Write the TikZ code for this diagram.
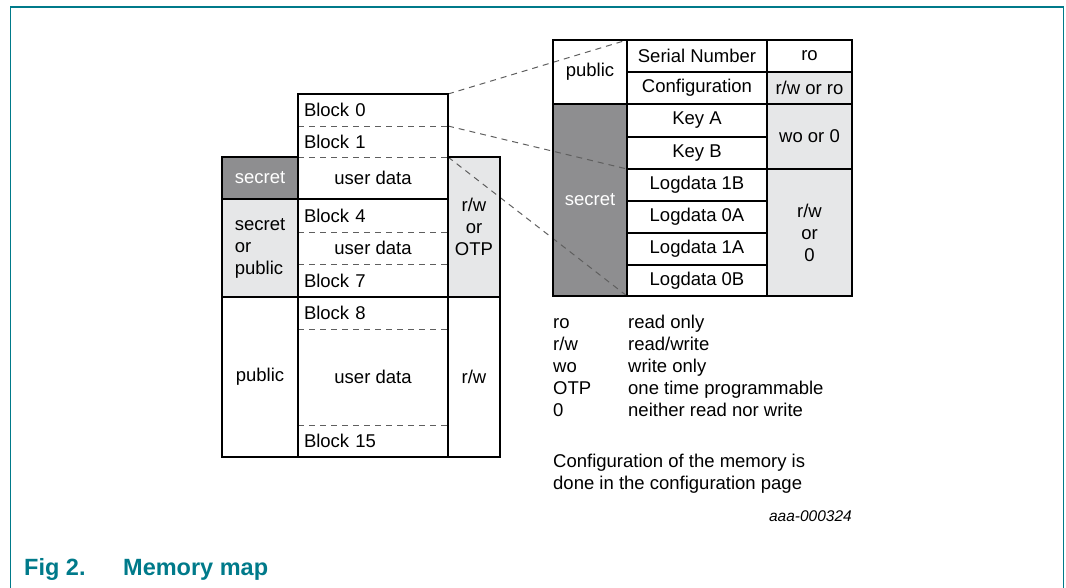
\documentclass[tikz,border=0pt]{standalone}
\usepackage{fontspec}
\setmainfont{Liberation Sans}
\definecolor{nxpteal}{RGB}{0,122,138}
\definecolor{darkcell}{RGB}{142,142,144}
\definecolor{lightcell}{RGB}{230,231,232}
\definecolor{dashgray}{RGB}{95,95,95}
\newcommand\cellfont{\fontsize{18.5}{22}\selectfont}
\begin{document}
\begin{tikzpicture}[x=1pt,y=-1pt,
  cell/.style={anchor=north west, inner sep=0pt, outer sep=0pt, font=\cellfont, align=center},
  lcell/.style={cell, align=left, inner xsep=6pt},
  dark/.style={fill=darkcell, text=white},
  light/.style={fill=lightcell},
  thickline/.style={line width=2.2pt, line cap=rect},
  thinline/.style={line width=1.1pt},
  medline/.style={line width=1.6pt},
  dashline/.style={line width=1pt, dashgray, dash pattern=on 6pt off 5pt},
  legend/.style={anchor=base west, inner sep=0pt, font=\cellfont}
]
\useasboundingbox (0,0) rectangle (1066,587);
% frame
\draw[nxpteal, line width=1.5pt] (10.5,590) -- (10.5,7) -- (1063.5,7) -- (1063.5,590);

% ---- left memory map ----
\node[lcell, text width=138pt, minimum height=32pt] (b0) at (298,94) {Block 0};
\node[lcell, text width=138pt, minimum height=31pt] (b1) at (298,126) {Block 1};
\node[cell, minimum width=150pt, minimum height=42pt] (ud1) at (298,157) {user data};
\node[lcell, text width=138pt, minimum height=33pt] (b4) at (298,199) {Block 4};
\node[cell, minimum width=150pt, minimum height=32pt] (ud2) at (298,232) {user data};
\node[lcell, text width=138pt, minimum height=33pt] (b7) at (298,264) {Block 7};
\node[lcell, text width=138pt, minimum height=32pt] (b8) at (298,297) {Block 8};
\node[cell, minimum width=150pt, minimum height=96pt] (ud3) at (298,329) {user data};
\node[lcell, text width=138pt, minimum height=32pt] (b15) at (298,425) {Block 15};

\node[cell, dark, minimum width=76pt, minimum height=42pt] (sec) at (222,157) {secret};
\node[cell, light, align=left, minimum width=76pt, minimum height=98pt] (sop) at (222,199) {secret\\or\\public};
\node[cell, minimum width=76pt, minimum height=160pt] (pub) at (222,297) {public};
\node[cell, light, minimum width=52pt, minimum height=140pt] (rwotp) at (448,157) {r/w\\or\\OTP};
\node[cell, minimum width=52pt, minimum height=160pt] (rw) at (448,297) {r/w};

% ---- right table ----
\node[cell, minimum width=74pt, minimum height=64pt] (tpub) at (553,40) {public};
\node[cell, dark, minimum width=74pt, minimum height=192pt] (tsec) at (553,104) {secret};
\node[cell, minimum width=140pt, minimum height=32pt] (sn) at (627,40) {Serial Number};
\node[cell, minimum width=140pt, minimum height=32pt] (cfg) at (627,72) {Configuration};
\node[cell, minimum width=140pt, minimum height=33pt] (ka) at (627,104) {Key A};
\node[cell, minimum width=140pt, minimum height=32pt] (kb) at (627,137) {Key B};
\node[cell, minimum width=140pt, minimum height=32pt] (l1b) at (627,169) {Logdata 1B};
\node[cell, minimum width=140pt, minimum height=32pt] (l0a) at (627,201) {Logdata 0A};
\node[cell, minimum width=140pt, minimum height=32pt] (l1a) at (627,233) {Logdata 1A};
\node[cell, minimum width=140pt, minimum height=31pt] (l0b) at (627,265) {Logdata 0B};
\node[cell, minimum width=85pt, minimum height=32pt] (ro) at (767,40) {ro};
\node[cell, light, minimum width=85pt, minimum height=32pt] (rwro) at (767,72) {r/w or ro};
\node[cell, light, minimum width=85pt, minimum height=65pt] (wo) at (767,104) {wo or 0};
\node[cell, light, minimum width=85pt, minimum height=127pt] (rwo0) at (767,169) {r/w\\or\\0};

% ---- dashed connectors ----
\draw[dashline] (b0.north east) -- (sn.north west);
\draw[dashline] (b1.north east) -- (kb.south west);
\draw[dashline] (ud1.north east) -- (l0b.south west);

% ---- left map lines ----
\draw[dashline] (b0.south west) -- (b0.south east);
\draw[dashline] (b1.south west) -- (b1.south east);
\draw[dashline] (b4.south west) -- (b4.south east);
\draw[dashline] (ud2.south west) -- (ud2.south east);
\draw[dashline] (b8.south west) -- (b8.south east);
\draw[dashline] (ud3.south west) -- (ud3.south east);
\draw[thinline] (sec.south west) -- (ud1.south east);
\draw[thinline] (sop.south west) -- (rwotp.south east);
\draw[thickline] (b0.north west) rectangle (b15.south east);
\draw[thickline] (sec.north east) -- (sec.north west) -- (pub.south west) -- (pub.south east);
\draw[thickline] (rwotp.north west) -- (rwotp.north east) -- (rw.south east) -- (rw.south west);

% ---- right table lines ----
\draw[thinline] (sn.south west) -- (ro.south east);
\draw[thinline] (ka.south west) -- (ka.south east);
\draw[thinline] (l1b.south west) -- (l1b.south east);
\draw[thinline] (l0a.south west) -- (l0a.south east);
\draw[thinline] (l1a.south west) -- (l1a.south east);
\draw[medline] (tpub.south west) -- (rwro.south east);
\draw[thickline] (kb.south west) -- (wo.south east);
\draw[thickline] (sn.north west) -- (l0b.south west);
\draw[thickline] (ro.north west) -- (rwo0.south west);
\draw[thickline] (tpub.north west) rectangle (rwo0.south east);

% ---- legend ----
\node[legend] (k1) at (553,328) {ro};
\node[legend] (v1) at (628,328) {read only};
\node[legend] (k2) at (553,350) {r/w};
\node[legend] (v2) at (628,350) {read/write};
\node[legend] (k3) at (553,372) {wo};
\node[legend] (v3) at (628,372) {write only};
\node[legend] (k4) at (553,394) {OTP};
\node[legend] (v4) at (628,394) {one time programmable};
\node[legend] (k5) at (553,416) {0};
\node[legend] (v5) at (628,416) {neither read nor write};
\node[legend] (c1) at (553,467) {Configuration of the memory is};
\node[legend] (c2) at (553,489) {done in the configuration page};
\node[anchor=base east, inner sep=0pt, font=\fontsize{15.5}{18}\selectfont\itshape] (id) at (852,521) {aaa-000324};

% ---- caption ----
\node[anchor=base west, inner sep=0pt, text=nxpteal, font=\fontsize{23.5}{28}\selectfont\bfseries] (fig) at (24,575) {Fig 2.};
\node[anchor=base west, inner sep=0pt, text=nxpteal, font=\fontsize{23.5}{28}\selectfont\bfseries] (title) at (123,575) {Memory map};
\end{tikzpicture}
\end{document}
